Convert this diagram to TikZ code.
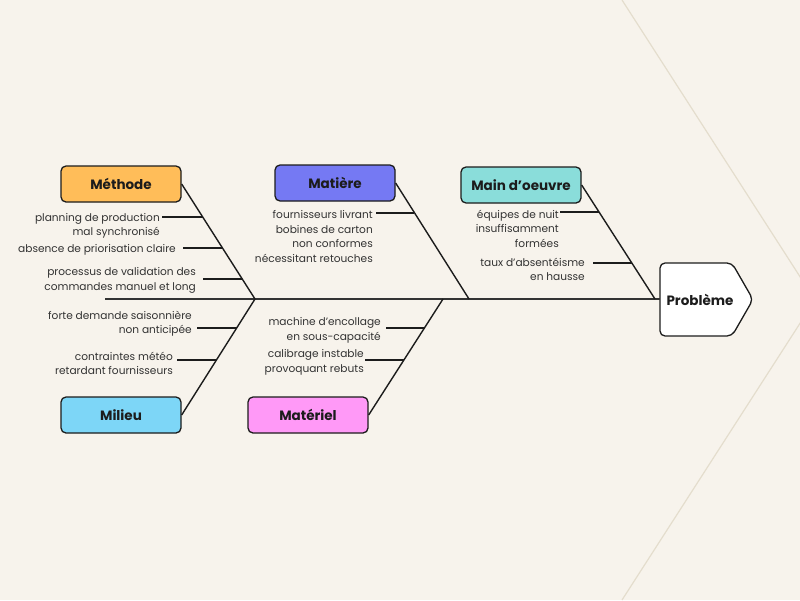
\documentclass[tikz,border=0pt]{standalone}
\usepackage{fontspec}
\setmainfont{Poppins}
\usetikzlibrary{calc}
\definecolor{bg}{HTML}{F7F3EC}
\definecolor{bgline}{HTML}{E4DDCD}
\definecolor{ink}{HTML}{1C1C1C}
\definecolor{txt}{HTML}{333333}
\definecolor{cmeth}{HTML}{FFBD59}
\definecolor{cmat}{HTML}{7579F3}
\definecolor{cmain}{HTML}{8ADDDA}
\definecolor{cmil}{HTML}{7DD6F7}
\definecolor{cmatl}{HTML}{FF99F7}
\begin{document}
\begin{tikzpicture}[x=1pt,y=-1pt,
  cat/.style={draw=ink, line width=1.3pt, rounded corners=5pt, minimum width=120pt, minimum height=36pt, inner sep=0pt, font=\bfseries\fontsize{13.5}{15}\selectfont, text=ink},
  lbl/.style={font=\fontsize{10.6}{14.5}\selectfont, text=txt, align=right, inner sep=0pt, anchor=east, yshift=-1.5pt},
  bone/.style={line width=1.4pt, draw=ink},
  spine/.style={line width=2.2pt, draw=ink!90},
  sub/.style={line width=1.4pt, draw=ink}]
\fill[bg] (0,0) rectangle (800,600);
\useasboundingbox (0,0) rectangle (800,600);
\begin{scope}
\clip (0,0) rectangle (800,600);
\draw[bgline, line width=1.2pt] (622,0) -- (815,300) -- (622,600);
\end{scope}

% Problem box
\draw[ink, fill=white, line width=1.3pt, rounded corners=5pt] (660,263) -- (732,263) -- (753,299.5) -- (732,336) -- (660,336) -- cycle;
\node[font=\bfseries\fontsize{13.5}{15}\selectfont, text=ink, inner sep=0pt] (prob) at (700,300) {Problème};
\coordinate (spR) at (660,299);
\coordinate (spL) at (105,299);
\draw[spine] (spL) -- (spR);

% category boxes
\node[cat, fill=cmeth] (meth) at (121,184) {Méthode};
\node[cat, fill=cmat]  (mat)  at (335,183) {Matière};
\node[cat, fill=cmain] (main) at (521,185) {Main d’oeuvre};
\node[cat, fill=cmil]  (mil)  at (121,415) {Milieu};
\node[cat, fill=cmatl] (matl) at (308,415) {Matériel};

% junctions on spine
\coordinate (j1) at (255,299);
\coordinate (j2) at (469,299);
\coordinate (j3) at (655,299);
\coordinate (j4) at (255,299);
\coordinate (j5) at (443,299);

\draw[bone] (meth.east) -- (j1);
\draw[bone] (mat.east) -- (j2);
\draw[bone] (main.east) -- (j3);
\draw[bone] (mil.east) -- (j4);
\draw[bone] (matl.east) -- (j5);

% Méthode causes
\node[lbl] (t1) at (160,224.5) {planning de production\\mal synchronisé};
\node[lbl] (t2) at (176,248) {absence de priorisation claire};
\node[lbl] (t3) at (196,279) {processus de validation des\\commandes manuel et long};
\coordinate (a1) at (162,217); \coordinate (b1) at ($(meth.east)!0.287!(j1)$);
\coordinate (a2) at (183,248); \coordinate (b2) at ($(meth.east)!0.557!(j1)$);
\coordinate (a3) at (203,279); \coordinate (b3) at ($(meth.east)!0.826!(j1)$);
\draw[sub] (a1) -- (b1 |- a1);
\draw[sub] (a2) -- (b2 |- a2);
\draw[sub] (a3) -- (b3 |- a3);

% Matière causes
\node[lbl] (t4) at (373,235) {fournisseurs livrant\\bobines de carton\\non conformes\\nécessitant retouches};
\coordinate (a4) at (376,213); \coordinate (b4) at ($(mat.east)!0.252!(j2)$);
\draw[sub] (a4) -- (b4 |- a4);

% Main d'oeuvre causes
\node[lbl] (t5) at (559,227) {équipes de nuit\\insuffisamment\\formées};
\node[lbl] (t6) at (585,268) {taux d’absentéisme\\en hausse};
\coordinate (a5) at (560,212); \coordinate (b5) at ($(main.east)!0.23!(j3)$);
\coordinate (a6) at (593,263); \coordinate (b6) at ($(main.east)!0.684!(j3)$);
\draw[sub] (a5) -- (b5 |- a5);
\draw[sub] (a6) -- (b6 |- a6);

% Milieu causes
\node[lbl] (t7) at (192,322) {forte demande saisonnière\\non anticipée};
\node[lbl] (t8) at (173,362) {contraintes météo\\retardant fournisseurs};
\coordinate (a7) at (197,328); \coordinate (b7) at ($(j4)!0.25!(mil.east)$);
\coordinate (a8) at (177,360); \coordinate (b8) at ($(j4)!0.526!(mil.east)$);
\draw[sub] (a7) -- (b7 |- a7);
\draw[sub] (a8) -- (b8 |- a8);

% Matériel causes
\node[lbl] (t9) at (381,329) {machine d’encollage\\en sous-capacité};
\node[lbl] (t10) at (364,361) {calibrage instable\\provoquant rebuts};
\coordinate (a9) at (386,328); \coordinate (b9) at ($(j5)!0.25!(matl.east)$);
\coordinate (a10) at (365,360); \coordinate (b10) at ($(j5)!0.526!(matl.east)$);
\draw[sub] (a9) -- (b9 |- a9);
\draw[sub] (a10) -- (b10 |- a10);
\end{tikzpicture}
\end{document}
